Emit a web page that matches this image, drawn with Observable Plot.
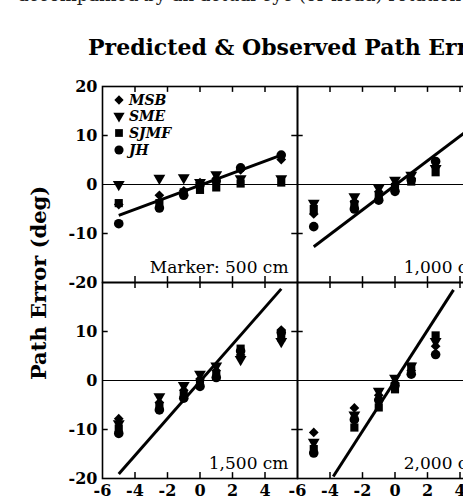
<!DOCTYPE html>
<html><head><meta charset="utf-8">
<script src="https://cdn.jsdelivr.net/npm/d3@7"></script>
<script src="https://cdn.jsdelivr.net/npm/@observablehq/plot@0.6"></script>
<style>
html,body{margin:0;padding:0;background:#fff;}
#wrap{position:relative;width:463px;height:504px;overflow:hidden;background:#fff;}
#wrap > svg{position:absolute;left:0;top:0;max-width:none !important;}
</style></head><body><div id="wrap"></div>
<script>
// ---- data ----
const subjects = ["MSB", "SME", "SJMF", "JH"];
const panelLabels = ["Marker: 500 cm", "1,000 cm", "1,500 cm", "2,000 cm"];
const panelCol = [0, 1, 0, 1];
const panelRow = [0, 0, 1, 1];
const xLevels = [-5, -2.5, -1, 0, 1, 2.5, 5];

const obs500  = {MSB: [-4.1, -2.2, -1.3, 0.4, 1.2, 3.0, 5.1], SME: [0.0, 1.3, 1.4, 0.4, 2.0, 1.2, 1.2], SJMF: [-3.8, -3.8, -1.6, -1.1, -0.6, 0.2, 0.4], JH: [-8.0, -4.8, -2.2, -0.1, 0.7, 3.4, 6.0]};
const obs1000 = {MSB: [-6.0, -3.5, -1.5, 0.0, 1.2, 3.6], SME: [-3.8, -2.5, -0.7, 0.9, 1.9, 3.3], SJMF: [-5.0, -4.0, -2.5, -0.5, 0.6, 2.5], JH: [-8.6, -5.0, -3.2, -1.4, 0.9, 4.7]};
const obs1500 = {MSB: [-7.8, -4.5, -2.0, 0.3, 2.0, 5.2, 10.3], SME: [-8.8, -3.3, -1.0, 1.3, 3.0, 4.3, 8.0], SJMF: [-9.8, -5.3, -3.0, -0.7, 1.0, 6.5, 8.8], JH: [-10.8, -6.0, -3.6, -1.2, 0.6, 6.0, 9.8]};
const obs2000 = {MSB: [-10.6, -5.6, -3.0, -0.5, 2.0, 7.0], SME: [-12.6, -7.0, -2.2, 0.5, 3.0, 8.0], SJMF: [-14.0, -9.6, -5.5, -1.8, 2.8, 9.2], JH: [-14.8, -8.0, -4.0, -1.0, 1.3, 5.3]};
const observed = [obs500, obs1000, obs1500, obs2000];

// predicted path error lines (endpoints per panel)
const predX1 = [-5, -5, -5, -3.8];
const predY1 = [-6.3, -12.7, -19.1, -19.6];
const predX2 = [5, 5, 5, 3.6];
const predY2 = [6.0, 12.4, 18.7, 18.5];

// tick labels
const yTickLabelsTop = [20, 10, 0, -10, -20];
const yTickLabelsBottom = [10, 0, -10, -20];
const xTickLabels = [-6, -4, -2, 0, 2, 4];
const xTickMarks = [-4, -2, 0, 2, 4];
const yTickMarks = [-10, 10];

// ---- tables ----
const points = [];
observed.forEach((obs, p) => {
  subjects.forEach(s => {
    obs[s].forEach((v, i) => points.push({col: panelCol[p], row: panelRow[p], subject: s, x: xLevels[i], y: v}));
  });
});
const preds = panelLabels.map((l, p) => ({col: panelCol[p], row: panelRow[p], x1: predX1[p], y1: predY1[p], x2: predX2[p], y2: predY2[p]}));
const labels = panelLabels.map((l, p) => ({col: panelCol[p], row: panelRow[p], label: l}));
const yLabs = [
  ...yTickLabelsTop.map(v => ({col: 0, row: 0, v})),
  ...yTickLabelsBottom.map(v => ({col: 0, row: 1, v}))
];
const xLabs = [0, 1].flatMap(c => xTickLabels.map(v => ({col: c, row: 1, v})));

const triangleDown = {
  draw(ctx, size) {
    const s = Math.sqrt(size * 4 / Math.sqrt(3));
    const h = s * Math.sqrt(3) / 2;
    ctx.moveTo(-s / 2, -h / 3);
    ctx.lineTo(s / 2, -h / 3);
    ctx.lineTo(0, 2 * h / 3);
    ctx.closePath();
  }
};
const symbolOf = {MSB: "diamond2", SME: triangleDown, SJMF: "square", JH: "circle"};
const rOf = {MSB: 4.4, SME: 4.4, SJMF: 4.6, JH: 4.8};

const serif = "'DejaVu Serif', serif";

const chart = Plot.plot({
  width: 500, height: 504,
  marginTop: 85, marginBottom: 26, marginLeft: 101, marginRight: 8,
  x: {domain: [-6, 6], axis: null},
  y: {domain: [-20, 20], axis: null},
  fx: {domain: [0, 1], padding: 0, axis: null},
  fy: {domain: [0, 1], padding: 0, axis: null},
  style: {fontFamily: serif, background: "white", color: "black", maxWidth: "none"},
  marks: [
    Plot.ruleY([0], {stroke: "black", strokeWidth: 1}),
    Plot.ruleX(xTickMarks, {y1: 20, y2: 18.8, stroke: "black", strokeWidth: 1.5}),
    Plot.ruleX(xTickMarks, {y1: -20, y2: -18.8, stroke: "black", strokeWidth: 1.5}),
    Plot.ruleY(yTickMarks, {x1: -6, x2: -5.65, stroke: "black", strokeWidth: 1.5}),
    Plot.ruleY(yTickMarks, {x1: 6, x2: 5.65, stroke: "black", strokeWidth: 1.5}),
    Plot.link(preds, {fx: "col", fy: "row", x1: "x1", y1: "y1", x2: "x2", y2: "y2", stroke: "black", strokeWidth: 3}),
    ...subjects.map(s => Plot.dot(points.filter(d => d.subject === s), {
      fx: "col", fy: "row", x: "x", y: "y", symbol: symbolOf[s], r: rOf[s], fill: "black", stroke: "none"
    })),
    Plot.frame({stroke: "black", strokeWidth: 1.6}),
    Plot.text(labels, {fx: "col", fy: "row", text: "label", frameAnchor: "bottom-right", textAnchor: "end", lineAnchor: "bottom", dx: -9, dy: -10, fontSize: 17, fontFamily: serif, fill: "black"}),
    Plot.text(yLabs, {fx: "col", fy: "row", x: -6, y: "v", text: d => String(d.v), textAnchor: "end", dx: -5, fontSize: 16, fontWeight: "bold", fontFamily: serif, fill: "black"}),
    Plot.text(xLabs, {fx: "col", fy: "row", x: "v", y: -20, text: d => String(d.v), lineAnchor: "middle", dy: 12, fontSize: 16, fontWeight: "bold", fontFamily: serif, fill: "black"})
  ]
});
chart.style.maxWidth = "none";
chart.style.height = "504px";
document.getElementById("wrap").appendChild(chart);

// ---- overlay text: running text, title, y label, legend ----
const ov = d3.select("#wrap").append("svg").attr("width", 463).attr("height", 504)
  .style("font-family", serif).style("pointer-events", "none");
ov.append("text").attr("x", 18).attr("y", 1).attr("font-size", 18).attr("fill", "#222")
  .text("accompanied by an actual eye (or head) rotation during");
ov.append("text").attr("x", 88).attr("y", 55).attr("font-size", 22).attr("font-weight", "bold").attr("fill", "black")
  .text("Predicted & Observed Path Errors");
ov.append("text").attr("transform", "translate(46,283) rotate(-90)").attr("text-anchor", "middle")
  .attr("font-size", 21).attr("font-weight", "bold").attr("fill", "black").text("Path Error (deg)");

const legendY = [100, 116, 133, 150];
const legendSym = [d3.symbolDiamond2, triangleDown, d3.symbolSquare, d3.symbolCircle];
const legendSize = [55, 55, 60, 66];
subjects.forEach((s, i) => {
  ov.append("path").attr("transform", `translate(119,${legendY[i]})`)
    .attr("d", d3.symbol(legendSym[i], legendSize[i])()).attr("fill", "black");
  ov.append("text").attr("x", 129).attr("y", legendY[i] + 5).attr("font-size", 14)
    .attr("font-style", "italic").attr("font-weight", "bold").attr("fill", "black").text(s);
});
</script></body></html>
